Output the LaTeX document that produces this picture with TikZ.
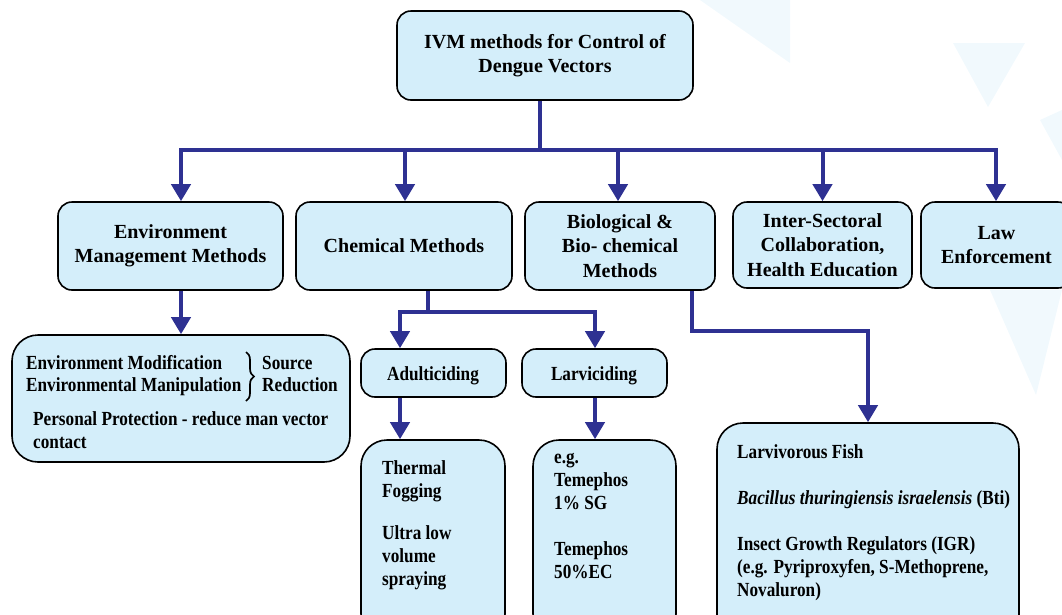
\documentclass[tikz,border=0pt]{standalone}
\usepackage{fontspec}
\setmainfont{Liberation Serif}
\newfontfamily\cond[FakeStretch=0.86]{Liberation Serif}
\usetikzlibrary{arrows.meta,decorations.pathreplacing}
\definecolor{boxfill}{HTML}{D4EEFA}
\definecolor{connc}{HTML}{2E3192}
\definecolor{bgtri}{HTML}{F1F9FD}
\begin{document}
\begin{tikzpicture}[x=1pt,y=-1pt,
  box/.style={draw=black, line width=1.6pt, fill=boxfill, rounded corners=14pt, inner sep=0pt,
    font=\bfseries\fontsize{20}{24.5}\selectfont, align=center},
  bigbox/.style={box, rounded corners=26pt},
  ln/.style={font=\cond\bfseries\fontsize{20}{24}\selectfont, anchor=base west, inner sep=0pt},
  lnc/.style={ln, anchor=base},
  arr/.style={draw=connc, line width=4pt, -{Triangle[width=19pt,length=17pt]}},
  link/.style={draw=connc, line width=4pt}
]
\useasboundingbox (0,0) rectangle (1062,614);
\clip (0,0) rectangle (1062,614);
% faint background triangles
\fill[bgtri] (700,0) -- (790,0) -- (790,63) -- cycle;
\fill[bgtri] (953,43) -- (1025,43) -- (988,107) -- cycle;
\fill[bgtri] (990,290) -- (1062,290) -- (1036,395) -- cycle;
\fill[bgtri] (1040,120) -- (1062,110) -- (1062,160) -- cycle;

% top level
\node[box, minimum width=296pt, minimum height=89pt] (top) at (545,55.5) {IVM methods for Control of\\Dengue Vectors};
\node[box, minimum width=225pt, minimum height=88pt] (env) at (170.5,246) {Environment\\Management Methods};
\node[box, minimum width=216pt, minimum height=88pt] (chem) at (404,246) {Chemical Methods};
\node[box, minimum width=190pt, minimum height=88pt] (bio) at (620,246) {Biological \&\\Bio- chemical\\Methods};
\node[box, minimum width=179pt, minimum height=86pt] (inter) at (822.5,245) {Inter-Sectoral\\Collaboration,\\Health Education};
\node[box, minimum width=151pt, minimum height=86pt] (law) at (996.5,245) {Law\\Enforcement};

\coordinate (hub) at (540,150);
\draw[link] ([xshift=-5pt]top.south) -- (hub);
\draw[arr] (hub) -| ([xshift=10.5pt]env.north);
\draw[arr] (hub) -| ([xshift=1pt]chem.north);
\draw[arr] (hub) -| ([xshift=-2pt]bio.north);
\draw[arr] (hub) -| (inter.north);
\draw[arr] (hub) -| ([xshift=-0.5pt]law.north);

% environment sub box
\node[bigbox, minimum width=338pt, minimum height=127pt] (envsub) at (181,398.5) {};
\draw[arr] ([xshift=10.5pt]env.south) -- (envsub.north);
\node[ln] (e1) at (26,369) {Environment Modification};
\node[ln] (e2) at (26,391) {Environmental Manipulation};
\draw[line width=1.7pt, decorate, decoration={brace, amplitude=8pt}] (246,352) -- (246,401);
\node[ln] (e3) at (262,369) {Source};
\node[ln] (e4) at (262,391) {Reduction};
\node[ln] (e5) at (33,425) {Personal Protection - reduce man vector};
\node[ln] (e6) at (33,448) {contact};

% chemical
\coordinate (chub) at (428,312);
\node[box, minimum width=145pt, minimum height=48pt] (adult) at (433.5,373) {};
\node[lnc] (adt) at (433,380) {Adulticiding};
\node[box, minimum width=145pt, minimum height=48pt] (larv) at (594.5,373) {};
\node[lnc] (lvt) at (594,380) {Larviciding};
\draw[link] (chem.south -| chub) -- (chub);
\draw[arr] (chub) -| (adult.north -| 400,0);
\draw[arr] (chub) -| (larv.north -| 595,0);

\node[bigbox, minimum width=144pt, minimum height=200pt] (therm) at (433,540) {};
\node[bigbox, minimum width=143pt, minimum height=200pt] (temep) at (604.5,540) {};
\draw[arr] (adult.south -| 400,0) -- (therm.north -| 400,0);
\draw[arr] (larv.south -| 595,0) -- (temep.north -| 595,0);

\node[ln] (t1) at (382,474) {Thermal};
\node[ln] (t2) at (382,497) {Fogging};
\node[ln] (t3) at (382,539) {Ultra low};
\node[ln] (t4) at (382,562) {volume};
\node[ln] (t5) at (382,585) {spraying};

\node[ln] (l1) at (554,463) {e.g.};
\node[ln] (l2) at (554,486) {Temephos};
\node[ln] (l3) at (554,509) {1\% SG};
\node[ln] (l4) at (554,555) {Temephos};
\node[ln] (l5) at (554,578) {50\%EC};

% biological
\node[bigbox, minimum width=302pt, minimum height=220pt] (biosub) at (868,533) {};
\coordinate (bbend) at (692,331);
\draw[arr] (bio.south -| bbend) -- (bbend) -| (biosub.north);
\node[ln] (b1) at (737,458) {Larvivorous Fish};
\node[ln] (b2) at (737,504) {\itshape Bacillus thuringiensis israelensis \upshape(Bti)};
\node[ln] (b3) at (737,550) {Insect Growth Regulators (IGR)};
\node[ln] (b4) at (737,573) {(e.g. Pyriproxyfen, S-Methoprene,};
\node[ln] (b5) at (737,596) {Novaluron)};
\end{tikzpicture}
\end{document}
